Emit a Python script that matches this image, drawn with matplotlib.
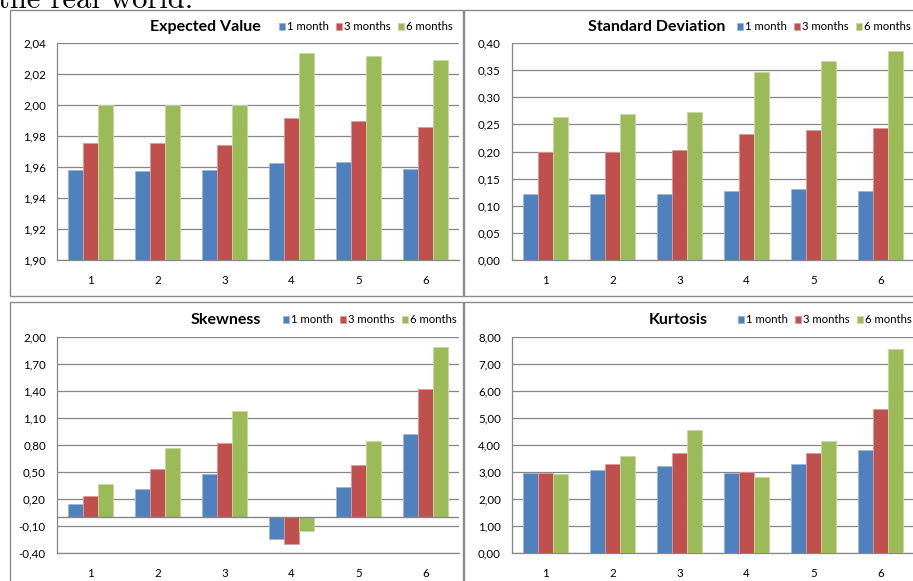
import matplotlib
matplotlib.use("Agg")
import matplotlib.pyplot as plt
from matplotlib.patches import Rectangle
from matplotlib.ticker import FuncFormatter
import numpy as np

# horizons shown in every panel
series_names = ["1 month", "3 months", "6 months"]
categories = [1, 2, 3, 4, 5, 6]

# expected value
ev_1m = [1.958, 1.9577, 1.958, 1.9624, 1.963, 1.9587]
ev_3m = [1.9757, 1.9757, 1.974, 1.9915, 1.9896, 1.986]
ev_6m = [2.000, 2.000, 2.000, 2.0338, 2.0314, 2.0288]

# standard deviation
sd_1m = [0.1216, 0.1216, 0.1216, 0.1265, 0.130, 0.128]
sd_3m = [0.1988, 0.200, 0.202, 0.232, 0.2389, 0.2438]
sd_6m = [0.2636, 0.2685, 0.272, 0.347, 0.3667, 0.385]

# skewness
sk_1m = [0.143, 0.308, 0.476, -0.242, 0.33, 0.926]
sk_3m = [0.234, 0.538, 0.822, -0.297, 0.582, 1.422]
sk_6m = [0.363, 0.769, 1.178, -0.158, 0.841, 1.889]

# kurtosis
ku_1m = [2.96, 3.07, 3.24, 2.96, 3.29, 3.80]
ku_3m = [2.96, 3.31, 3.69, 3.00, 3.69, 5.33]
ku_6m = [2.93, 3.60, 4.56, 2.82, 4.16, 7.57]

colors = ["#4F81BD", "#C0504D", "#9BBB59"]
edges = ["#9db6d8", "#dc9a98", "#c6d9a5"]
grid_col = "#868686"
frame_col = "#8a8a8a"

plt.rcParams["font.family"] = ["Lato", "DejaVu Sans"]

W, H = 913, 581
fig = plt.figure(figsize=(W / 100, H / 100), dpi=100)


def fx(x):
    return x / W


def fy(y):
    return 1 - y / H


def box(left, top, right, bottom):
    return [fx(left), fy(bottom), fx(right) - fx(left), fy(top) - fy(bottom)]


# chart borders
for (l, t, r, b) in [(10, 10, 462.7, 295.7), (464.3, 10, 920, 296),
                     (9.5, 302.3, 462.7, 590), (464.3, 302.3, 920, 590)]:
    fig.patches.append(Rectangle((fx(l), fy(b)), fx(r) - fx(l), fy(t) - fy(b),
                                 transform=fig.transFigure, fill=False,
                                 edgecolor=frame_col, lw=1.0))

# tail of the paragraph above the charts
fig.text(fx(-2), fy(7.5), "the real world.", fontfamily="cmr10", fontsize=22,
         va="baseline", ha="left", color="black")

comma = FuncFormatter(lambda v, p: f"{v:.2f}".replace(".", ","))
bw = 1 / 4.5


def panel(rect, data, ticks, title, title_right, title_y, leg_right):
    ax = fig.add_axes(rect)
    x = np.array(categories)
    for i, vals in enumerate(data):
        ax.bar(x + (i - 1) * bw, vals, width=bw, color=colors[i],
               edgecolor=edges[i], linewidth=0.6, label=series_names[i],
               zorder=3)
    ax.set_xlim(0.5, 6.5)
    ax.set_ylim(ticks[0], ticks[-1])
    ax.set_yticks(ticks)
    ax.yaxis.set_major_formatter(comma)
    ax.set_xticks(categories)
    ax.grid(axis="y", color=grid_col, lw=0.9, zorder=0)
    for s in ["top", "right"]:
        ax.spines[s].set_visible(False)
    for s in ["left", "bottom"]:
        ax.spines[s].set_color(grid_col)
        ax.spines[s].set_linewidth(0.9)
    if ticks[0] < 0:
        ax.axhline(0, color=grid_col, lw=1.0, zorder=4)
    ax.tick_params(axis="y", length=0, pad=8, labelsize=8.3)
    ax.tick_params(axis="x", length=0, pad=11, labelsize=8.3)
    fig.text(fx(title_right), fy(title_y), title, ha="right", va="center",
             fontsize=11.5, fontweight="bold")
    ax.legend(loc="center right", bbox_to_anchor=(fx(leg_right), fy(title_y)),
              bbox_transform=fig.transFigure, ncol=3, frameon=False,
              fontsize=8.2, handlelength=0.5, handleheight=0.5,
              handletextpad=0.2, columnspacing=0.65, borderpad=0,
              borderaxespad=0)
    return ax


panel(box(57, 43, 459, 260), [ev_1m, ev_3m, ev_6m],
      np.round(np.arange(1.90, 2.041, 0.02), 2), "Expected Value", 261, 27, 453)
panel(box(512, 43, 914, 260), [sd_1m, sd_3m, sd_6m],
      np.round(np.arange(0.0, 0.401, 0.05), 2), "Standard Deviation", 725, 27, 911)
panel(box(57, 337, 459, 553), [sk_1m, sk_3m, sk_6m],
      np.round(np.arange(-0.40, 2.01, 0.30), 2), "Skewness", 261, 320, 457)
panel(box(512, 337, 914, 553), [ku_1m, ku_3m, ku_6m],
      np.round(np.arange(0.0, 8.01, 1.0), 2), "Kurtosis", 708, 320, 912)

fig.savefig("out.png", dpi=100)
